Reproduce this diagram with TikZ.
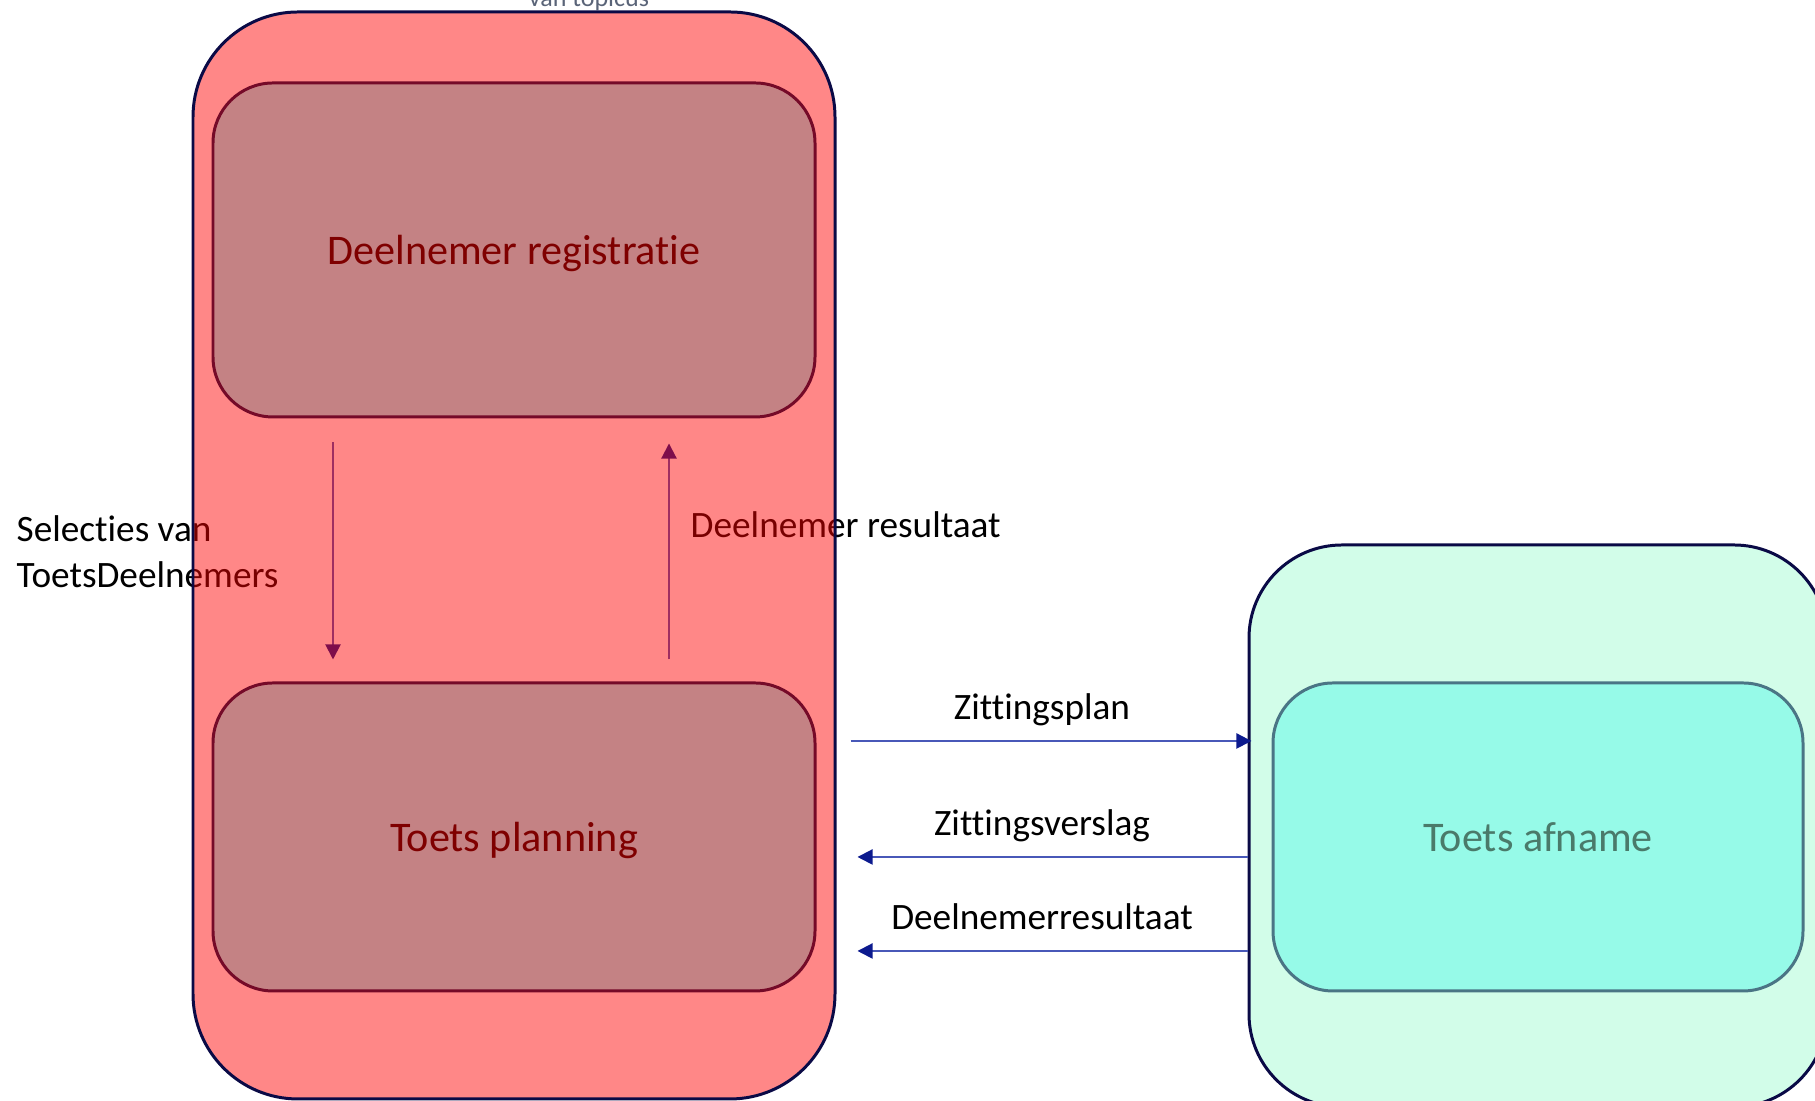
\documentclass[tikz,border=0pt]{standalone}
\usepackage{fontspec}
\setmainfont[Ligatures=NoCommon]{Carlito}
\usetikzlibrary{arrows.meta}

\definecolor{boxline}{HTML}{0A0A46}
\definecolor{regfill}{HTML}{C48284}
\definecolor{regline}{HTML}{750A28}
\definecolor{regtext}{HTML}{7F0000}
\definecolor{afnfill}{HTML}{D2FDE9}
\definecolor{tafill}{HTML}{96FAE8}
\definecolor{taline}{HTML}{4A7585}
\definecolor{tatext}{HTML}{4A7A6A}
\definecolor{flowline}{HTML}{4858B8}
\definecolor{flowtip}{HTML}{0C1A8E}
\definecolor{topgray}{HTML}{5A6478}

\pgfdeclarelayer{back}
\pgfsetlayers{back,main}

\begin{document}
\begin{tikzpicture}[>={Triangle[length=4.3pt,width=4.3pt,color=flowtip]},
    group/.style={draw=boxline, line width=0.85pt, inner sep=0pt},
    proc/.style={line width=0.85pt, rounded corners=0.6cm, minimum width=6.02cm, text depth=0pt, font=\fontsize{12}{14}\selectfont},
    flow/.style={->, draw=flowline, line width=0.57pt},
    flowlabel/.style={midway, above=5.7pt, inner sep=0pt, text depth=0pt, xshift=0.10cm, font=\fontsize{10.6}{13}\selectfont},
    note/.style={inner sep=0pt, font=\fontsize{10.6}{13}\selectfont}]
    \useasboundingbox (0,0) rectangle (18.15,11.01);

    % groups and processes
    \node[group, fill=red, fill opacity=0.47, rounded corners=1.05cm, minimum width=6.42cm, minimum height=10.87cm] (beheer) at (5.14,5.455) {};
    \node[proc, draw=regline, fill=regfill, text=regtext, minimum height=3.34cm] (registratie) at (5.14,8.51) {Deelnemer registratie};
    \node[proc, draw=regline, fill=regfill, text=regtext, minimum height=3.08cm] (planning) at (5.14,2.64) {Toets planning};
    \node[group, fill=afnfill, rounded corners=0.93cm, minimum width=5.78cm, minimum height=5.62cm] (afnamegroep) at (15.38,2.75) {};
    \node[proc, draw=taline, fill=tafill, text=tatext, minimum width=5.30cm, minimum height=3.08cm] (afname) at (15.38,2.64) {Toets afname};

    % under the red group
    \begin{pgfonlayer}{back}
    \node[note, anchor=base, text=topgray, font=\fontsize{7.4}{9}\selectfont] (bron) at (5.89,10.945) {van topicus};
    \node[note, anchor=west, align=left] (selectie) at (0.16,5.49) {Selecties van\\ToetsDeelnemers};
    \node[note, anchor=base west] (resultaat) at (6.90,5.63) {Deelnemer resultaat};
    \draw[flow, shorten <=0.24cm, shorten >=0.22cm] (registratie.south -| 3.33,0) -- (planning.north -| 3.33,0);
    \draw[flow, shorten <=0.22cm, shorten >=0.25cm] (planning.north -| 6.69,0) -- (registratie.south -| 6.69,0);
    \end{pgfonlayer}

    % between planning and afname
    \draw[flow, shorten <=0.34cm, shorten >=-0.04cm] (planning.east |- 0,3.60) -- (afnamegroep.west |- 0,3.60) node[flowlabel] (plan) {Zittingsplan};
    \draw[flow, shorten >=0.41cm] (afnamegroep.west |- 0,2.44) -- (planning.east |- 0,2.44) node[flowlabel] (verslag) {Zittingsverslag};
    \draw[flow, shorten >=0.41cm] (afnamegroep.west |- 0,1.50) -- (planning.east |- 0,1.50) node[flowlabel] (uitslag) {Deelnemerresultaat};
\end{tikzpicture}
\end{document}
